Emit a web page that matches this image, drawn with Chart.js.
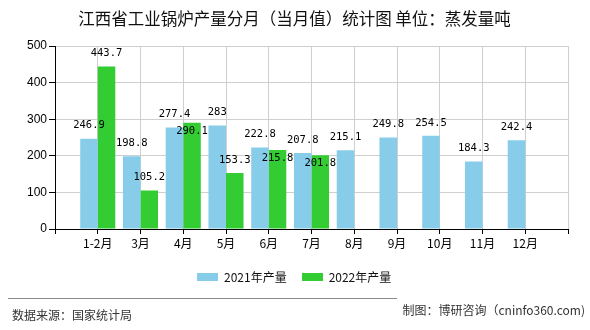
<!DOCTYPE html>
<html lang="zh">
<head>
	<meta charset="UTF-8"/>
	<title>江西省工业锅炉产量分月（当月值）统计图</title>
	<script src="https://cdn.jsdelivr.net/npm/chart.js"></script>
	<style>
		body {
			margin: 0;
			background: #fff;
			font-family: "Noto Sans CJK SC", sans-serif;
		}
		.wrap {
			position: relative;
			width: 590px;
			height: 330px;
		}
		canvas {
			position: absolute;
			left: 0;
			top: 0;
		}
		.title {
			position: absolute;
			left: 0;
			width: 589px;
			top: 7px;
			text-align: center;
			font-size: 16.5px;
			line-height: 22px;
			color: #111;
			white-space: nowrap;
		}
		.legend {
			position: absolute;
			left: 197px;
			top: 268px;
			display: flex;
			font-size: 12px;
			line-height: 18px;
			color: #111;
		}
		.legend span {
			display: flex;
			align-items: center;
			margin-right: 15px;
		}
		.legend i {
			display: inline-block;
			width: 21px;
			height: 8px;
			margin-right: 6px;
		}
		.rule {
			position: absolute;
			left: 8px;
			top: 298px;
			width: 389px;
			border-top: 1px solid #8a8a8a;
		}
		.source, .maker {
			position: absolute;
			font-size: 12px;
			color: #333;
			line-height: 14px;
			white-space: nowrap;
		}
		.source { left: 12px; top: 308px; }
		.maker { right: 5px; top: 303px; }
	</style>
</head>
<body>
<div class="wrap">
	<canvas id="chart" width="590" height="330"></canvas>
	<div class="title">江西省工业锅炉产量分月（当月值）统计图 单位：蒸发量吨</div>
	<div class="legend" id="legend"></div>
	<div class="rule"></div>
	<div class="source">数据来源：国家统计局</div>
	<div class="maker">制图：博研咨询（cninfo360.com)</div>
</div>

<script>
	const months = ["1-2月", "3月", "4月", "5月", "6月", "7月", "8月", "9月", "10月", "11月", "12月"];
	const output2021 = [246.9, 198.8, 277.4, 283, 222.8, 207.8, 215.1, 249.8, 254.5, 184.3, 242.4];
	const output2022 = [443.7, 105.2, 290.1, 153.3, 215.8, 201.8];
	const yTicks = [0, 100, 200, 300, 400, 500];

	// one blank slot at each end of the category axis
	const labels = ["", ...months, ""];
	const pad = arr => [null, ...arr, ...Array(labels.length - 1 - arr.length).fill(null)];

	const valueFont = "10.5px 'DejaVu Sans Mono', monospace";

	// numbers above bars; a 2022 label that would collide with the 2021 one drops lower
	const valueLabels = {
		id: "valueLabels",
		afterDatasetsDraw(chart) {
			const ctx = chart.ctx;
			ctx.save();
			ctx.font = valueFont;
			ctx.fillStyle = "#000";
			ctx.textAlign = "center";
			ctx.textBaseline = "middle";
			const firstY = {};
			chart.data.datasets.forEach((ds, di) => {
				const meta = chart.getDatasetMeta(di);
				meta.data.forEach((bar, i) => {
					const v = ds.data[i];
					if (v === null || v === undefined) return;
					let y = bar.y - 13;
					if (di === 0) {
						firstY[i] = y;
					} else if (firstY[i] !== undefined && Math.abs(firstY[i] - y) < 12) {
						y += 21;
					}
					ctx.fillText(String(v), bar.x, y);
				});
			});
			ctx.restore();
		}
	};

	const chart = new Chart(document.getElementById("chart"), {
		type: "bar",
		data: {
			labels: labels,
			datasets: [
				{
					label: "2021年产量",
					data: pad(output2021),
					backgroundColor: "#87cdea",
					categoryPercentage: 0.82,
					barPercentage: 1
				},
				{
					label: "2022年产量",
					data: pad(output2022),
					backgroundColor: "#33cc33",
					categoryPercentage: 0.82,
					barPercentage: 1
				}
			]
		},
		options: {
			responsive: false,
			animation: false,
			layout: { padding: { left: 0, right: 22, top: 46, bottom: 81 } },
			plugins: {
				title: { display: false },
				legend: { display: false },
				tooltip: { enabled: false }
			},
			scales: {
				x: {
					offset: false,
					afterFit: s => { s.height = 20; },
					grid: { offset: false, color: "#cfcfcf", tickColor: "#000", tickLength: 5 },
					border: { color: "#000" },
					ticks: {
						autoSkip: false,
						maxRotation: 0,
						padding: 2,
						color: "#000",
						font: { family: "'Noto Sans CJK SC', sans-serif", size: 12 }
					}
				},
				y: {
					min: 0,
					max: 500,
					afterFit: s => { s.width = 55; },
					afterBuildTicks: s => { s.ticks = yTicks.map(v => ({ value: v })); },
					grid: { color: "#cfcfcf", tickColor: "#000", tickLength: 6 },
					border: { color: "#000" },
					ticks: {
						padding: 2,
						color: "#000",
						font: { family: "'Liberation Sans', sans-serif", size: 12 }
					}
				}
			}
		},
		plugins: [valueLabels]
	});

	// legend built from the datasets
	const legendBox = document.getElementById("legend");
	chart.data.datasets.forEach(ds => {
		const item = document.createElement("span");
		item.innerHTML = `<i style="background:${ds.backgroundColor}"></i>${ds.label}`;
		legendBox.appendChild(item);
	});
</script>
</body>
</html>
